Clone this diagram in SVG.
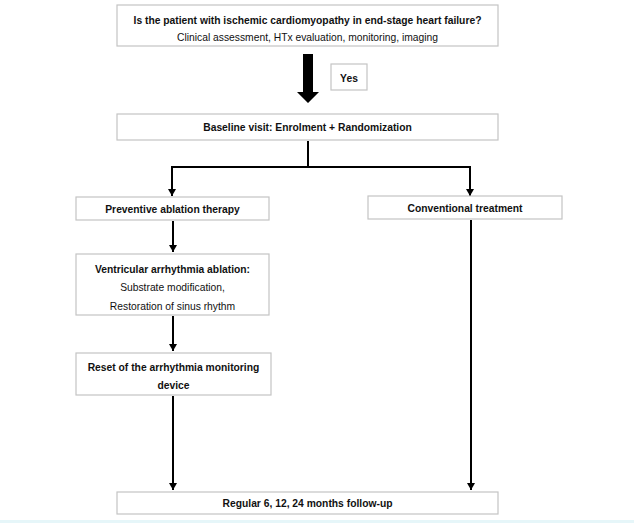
<svg xmlns="http://www.w3.org/2000/svg" width="634" height="523" viewBox="0 0 634 523">
<defs>
<style>
.box{fill:#fff;stroke:#c4c4c4;stroke-width:1.2}
.t{font-family:"Liberation Sans",Arial,sans-serif;font-size:10.3px;fill:#111;text-anchor:middle}
.b{font-weight:bold}
.ln{fill:none;stroke:#000;stroke-width:2}
</style>
<marker id="ah" markerWidth="8" markerHeight="8" refX="7" refY="4" orient="auto" markerUnits="userSpaceOnUse" viewBox="0 0 8 8">
<path d="M0,0 L7,4 L0,8 Z" fill="#000"/>
</marker>
</defs>
<rect x="0" y="0" width="634" height="523" fill="#fff"/>
<rect x="0" y="520" width="634" height="3" fill="#e6f6f9"/>
<g id="connectors">
<path d="M303,54 H313 V92 H319 L308,103 L297,92 H303 Z" fill="#000"/>
<path class="ln" d="M308,141 V167"/>
<path class="ln" d="M172,167 H471"/>
<path class="ln" d="M172,166 V196" marker-end="url(#ah)"/>
<path class="ln" d="M470,166 V196" marker-end="url(#ah)"/>
<path class="ln" d="M173,221 V252" marker-end="url(#ah)"/>
<path class="ln" d="M173,316 V351" marker-end="url(#ah)"/>
<path class="ln" d="M173,396 V490" marker-end="url(#ah)"/>
<path class="ln" d="M471,220 V490" marker-end="url(#ah)"/>
</g>
<g id="n_question">
<rect class="box" x="117" y="5" width="381" height="41"/>
<text class="t b" x="307.5" y="24" font-size="10.9">Is the patient with ischemic cardiomyopathy in end-stage heart failure?</text>
<text class="t" x="307.5" y="40.5">Clinical assessment, HTx evaluation, monitoring, imaging</text>
</g>
<g id="n_yes">
<rect class="box" x="331" y="64" width="36" height="26"/>
<text class="t b" x="349" y="81.5">Yes</text>
</g>
<g id="n_baseline">
<rect class="box" x="117" y="114" width="381" height="26"/>
<text class="t b" x="307.5" y="131">Baseline visit: Enrolment + Randomization</text>
</g>
<g id="n_preventive">
<rect class="box" x="76" y="197" width="193" height="23"/>
<text class="t b" x="172.5" y="212.5">Preventive ablation therapy</text>
</g>
<g id="n_conventional">
<rect class="box" x="368" y="196" width="194" height="23"/>
<text class="t b" x="465" y="212">Conventional treatment</text>
</g>
<g id="n_ablation">
<rect class="box" x="76" y="254" width="193" height="61"/>
<text class="t b" x="172.5" y="272.5">Ventricular arrhythmia ablation:</text>
<text class="t" x="172.5" y="291">Substrate modification,</text>
<text class="t" x="172.5" y="309.5">Restoration of sinus rhythm</text>
</g>
<g id="n_reset">
<rect class="box" x="76" y="353" width="195" height="42"/>
<text class="t b" x="173.5" y="370.5">Reset of the arrhythmia monitoring</text>
<text class="t b" x="173.5" y="389">device</text>
</g>
<g id="n_followup">
<rect class="box" x="117" y="492" width="381" height="22"/>
<text class="t b" x="307.5" y="506.5">Regular 6, 12, 24 months follow-up</text>
</g>
</svg>
